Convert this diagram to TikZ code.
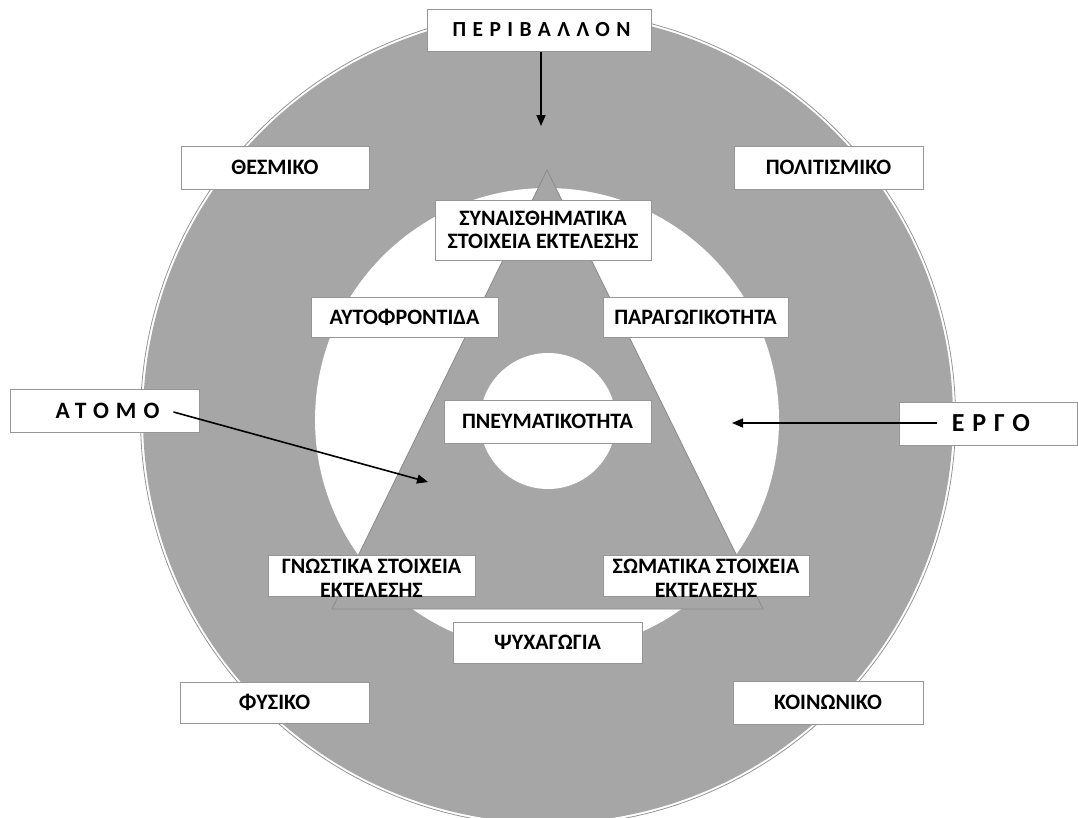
\documentclass[tikz,border=0pt]{standalone}
\usepackage{fontspec}
\setmainfont{Carlito}
\newfontfamily\wide[LetterSpace=30]{Carlito}
\usetikzlibrary{arrows.meta}
\definecolor{ringgray}{RGB}{166,166,166}
\definecolor{boxedge}{RGB}{150,150,150}
\begin{document}
\begin{tikzpicture}[x=1pt,y=-1pt,
  box/.style={draw=boxedge, line width=1pt, fill=white, font=\bfseries\fontsize{22}{24.5}\selectfont, align=center, inner sep=0pt},
  txt/.style={font=\bfseries\fontsize{22}{24}\selectfont, align=center, inner sep=0pt},
  arr/.style={-{Triangle[length=11pt,width=9pt]}, line width=1.6pt, black}]
\useasboundingbox (0,0) rectangle (1078,817);
% rings
\fill[ringgray] (548,418) circle (405pt);
\draw[boxedge, line width=0.8pt] (548,418) circle (407.5pt);
\fill[white] (547,420) circle (232pt);
\filldraw[fill=ringgray, draw=black!45, line width=0.8pt] (547,170) -- (763,609) -- (332,609) -- cycle;
\fill[white] (548,421) circle (68pt);
% boxes
\node[box, minimum width=224pt, minimum height=42pt, font=\bfseries\fontsize{21.5}{24}\selectfont] (env) at (539,30) {\hspace*{5pt}\wide ΠΕΡΙΒΑΛΛΟΝ};
\node[box, minimum width=188pt, minimum height=43pt] (thes) at (275,167.5) {ΘΕΣΜΙΚΟ};
\node[box, minimum width=189pt, minimum height=43pt] (polit) at (828.5,167.5) {ΠΟΛΙΤΙΣΜΙΚΟ};
\node[box, minimum width=216pt, minimum height=60pt, font=\bfseries\fontsize{22}{22.5}\selectfont] (synais) at (543,230) {ΣΥΝΑΙΣΘΗΜΑΤΙΚΑ\\ΣΤΟΙΧΕΙΑ ΕΚΤΕΛΕΣΗΣ};
\node[box, minimum width=187pt, minimum height=40pt] (auto) at (404.5,317) {ΑΥΤΟΦΡΟΝΤΙΔΑ};
\node[box, minimum width=185pt, minimum height=40pt] (parag) at (695.5,317) {ΠΑΡΑΓΩΓΙΚΟΤΗΤΑ};
\node[box, minimum width=207pt, minimum height=43pt] (pneum) at (547.5,421.5) {ΠΝΕΥΜΑΤΙΚΟΤΗΤΑ};
\node[box, minimum width=189pt, minimum height=43pt, font=\bfseries\fontsize{23.5}{26}\selectfont] (atomo) at (104.5,410.5) {\hspace*{6pt}\wide ΑΤΟΜΟ};
\node[box, minimum width=178pt, minimum height=43pt, font=\bfseries\fontsize{26}{28}\selectfont] (ergo) at (988,423.5) {\hspace*{6pt}\wide ΕΡΓΟ};
\node[box, minimum width=207pt, minimum height=41pt] (gnos) at (371.5,575.5) {};
\node[txt] (gnostxt) at (371.5,578) {ΓΝΩΣΤΙΚΑ ΣΤΟΙΧΕΙΑ\\ΕΚΤΕΛΕΣΗΣ};
\node[box, minimum width=206pt, minimum height=41pt] (soma) at (706,575.5) {};
\node[txt] (somatxt) at (706,578) {ΣΩΜΑΤΙΚΑ ΣΤΟΙΧΕΙΑ\\ΕΚΤΕΛΕΣΗΣ};
\node[box, minimum width=189pt, minimum height=41pt] (psych) at (547.5,642.5) {ΨΥΧΑΓΩΓΙΑ};
\node[box, minimum width=189pt, minimum height=41pt] (fys) at (274.5,702.5) {ΦΥΣΙΚΟ};
\node[box, minimum width=190pt, minimum height=43pt] (koin) at (828,702.5) {ΚΟΙΝΩΝΙΚΟ};
% arrow ends
\coordinate (envtip) at (541,126);
\coordinate (atomotip) at (428,482);
\coordinate (ergotip) at (732,423);
\draw[arr] ([xshift=2pt]env.south) -- (envtip);
\draw[arr] ([xshift=-26pt,yshift=-1.5pt]atomo.east) -- (atomotip);
\draw[arr] ([xshift=38pt,yshift=0.5pt]ergo.west) -- (ergotip);
\end{tikzpicture}
\end{document}
